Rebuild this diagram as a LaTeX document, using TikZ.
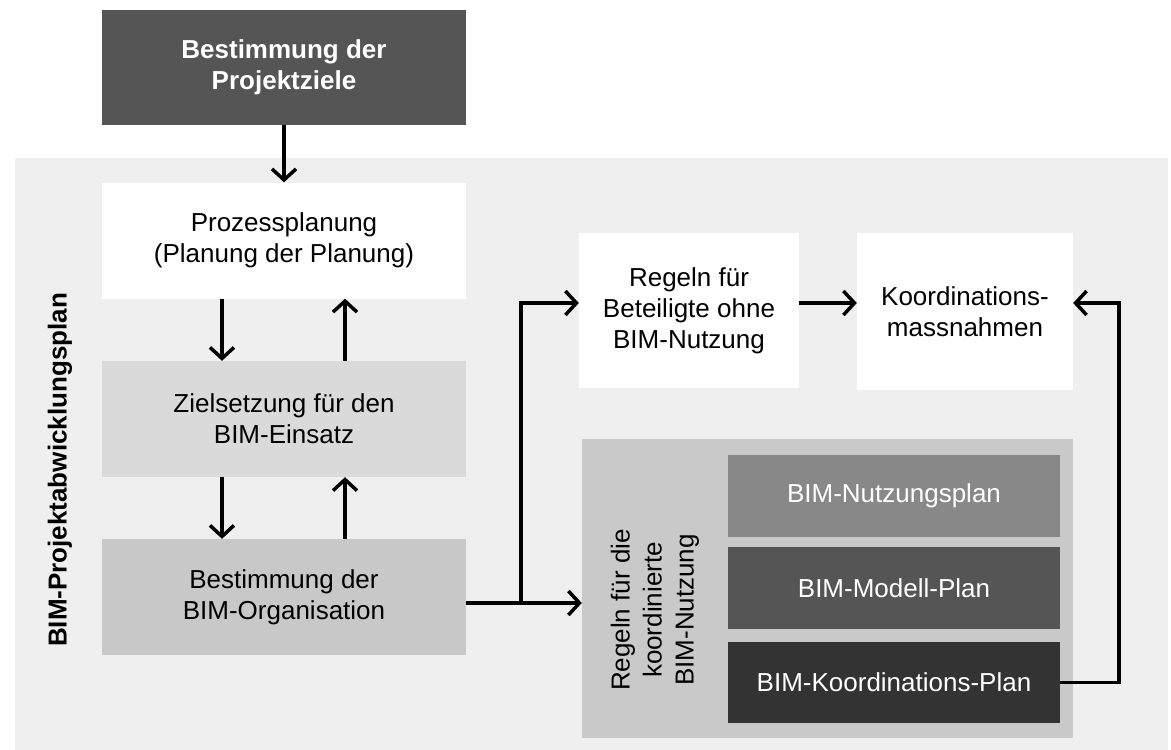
\documentclass[tikz,border=0pt]{standalone}
\usepackage{fontspec}
\setmainfont{Liberation Sans}
\usetikzlibrary{arrows.meta,calc}

\definecolor{hintergrund}{HTML}{EFEFEF}
\definecolor{grauhell}{HTML}{DADADA}
\definecolor{graumittel}{HTML}{C8C8C8}
\definecolor{graurahmen}{HTML}{C9C9C9}
\definecolor{graunutz}{HTML}{888888}
\definecolor{graumodell}{HTML}{555555}
\definecolor{graukoord}{HTML}{333333}

\begin{document}
\begin{tikzpicture}[x=1pt,y=-1pt,
	kasten/.style={minimum width=364pt,minimum height=116pt,align=center,inner sep=0pt,
		font=\fontsize{26}{31}\selectfont},
	plankasten/.style={minimum width=332pt,minimum height=82pt,inner sep=0pt,text=white,
		font=\fontsize{26}{31}\selectfont},
	pfeil/.style={line width=3.5pt,-{Straight Barb[length=11pt,width=24pt]}}]
	\useasboundingbox (0,0) rectangle (1171,750);
	
	%HINTERGRUND BEP
	\fill[hintergrund] (15,158) rectangle (1168,750);
	\node[rotate=90,font=\fontsize{26}{31}\selectfont\bfseries] (bep) at (60,470) {BIM-Projektabwicklungsplan};
	
	%LINKE SPALTE
	\node[kasten,fill=graumodell,text=white,font=\fontsize{26}{31}\selectfont\bfseries,minimum height=115pt]
		(ziele) at (284,67.5) {Bestimmung der\\Projektziele};
	\node[kasten,fill=white] (prozess) at (284,240.5) {Prozessplanung\\(Planung der Planung)};
	\node[kasten,fill=grauhell] (zielsetzung) at (284,419) {Zielsetzung f\"ur den\\BIM-Einsatz};
	\node[kasten,fill=graumittel] (organisation) at (284,597) {Bestimmung der\\BIM-Organisation};
	
	%RECHTS OBEN
	\node[kasten,fill=white,minimum width=220pt,minimum height=155pt] (regeln) at (689,310.5)
		{Regeln f\"ur\\Beteiligte ohne\\BIM-Nutzung};
	\node[kasten,fill=white,minimum width=216pt,minimum height=157pt] (massnahmen) at (965,311.5)
		{Koordinations-\\massnahmen};
	
	%RECHTS UNTEN
	\node[fill=graurahmen,minimum width=491pt,minimum height=299pt,inner sep=0pt] (koordiniert) at (827.5,588.5) {};
	\node[rotate=90,align=center,font=\fontsize{26}{32}\selectfont] (regelnkoord) at (655,610)
		{Regeln f\"ur die\\koordinierte\\BIM-Nutzung};
	\node[plankasten,fill=graunutz] (nutzungsplan) at (894,496) {BIM-Nutzungsplan};
	\node[plankasten,fill=graumodell] (modellplan) at (894,588) {BIM-Modell-Plan};
	\node[plankasten,fill=graukoord,minimum height=81pt] (koordplan) at (894,682.5) {BIM-Koordinations-Plan};
	
	%PFEILE
	\draw[pfeil] (ziele) -- (prozess);
	\draw[pfeil] ([xshift=-62pt]prozess.south) -- ([xshift=-62pt]zielsetzung.north);
	\draw[pfeil] ([xshift=61pt]zielsetzung.north) -- ([xshift=61pt]prozess.south);
	\draw[pfeil] ([xshift=-62pt]zielsetzung.south) -- ([xshift=-62pt]organisation.north);
	\draw[pfeil] ([xshift=61pt]organisation.north) -- ([xshift=61pt]zielsetzung.south);
	
	\coordinate (abzweig) at (521,603);
	\coordinate (oben) at (521,303);
	\draw[pfeil] (organisation.east |- abzweig) -- (koordiniert.west |- abzweig);
	\draw[pfeil] (abzweig) -- (oben) -- (regeln.west |- oben);
	\draw[pfeil] (regeln.east |- oben) -- (massnahmen.west |- oben);
	
	\coordinate (rueck) at (1119,303);
	\draw[pfeil] (koordplan.east) -| (rueck) -- (massnahmen.east |- rueck);
	
\end{tikzpicture}
\end{document}
